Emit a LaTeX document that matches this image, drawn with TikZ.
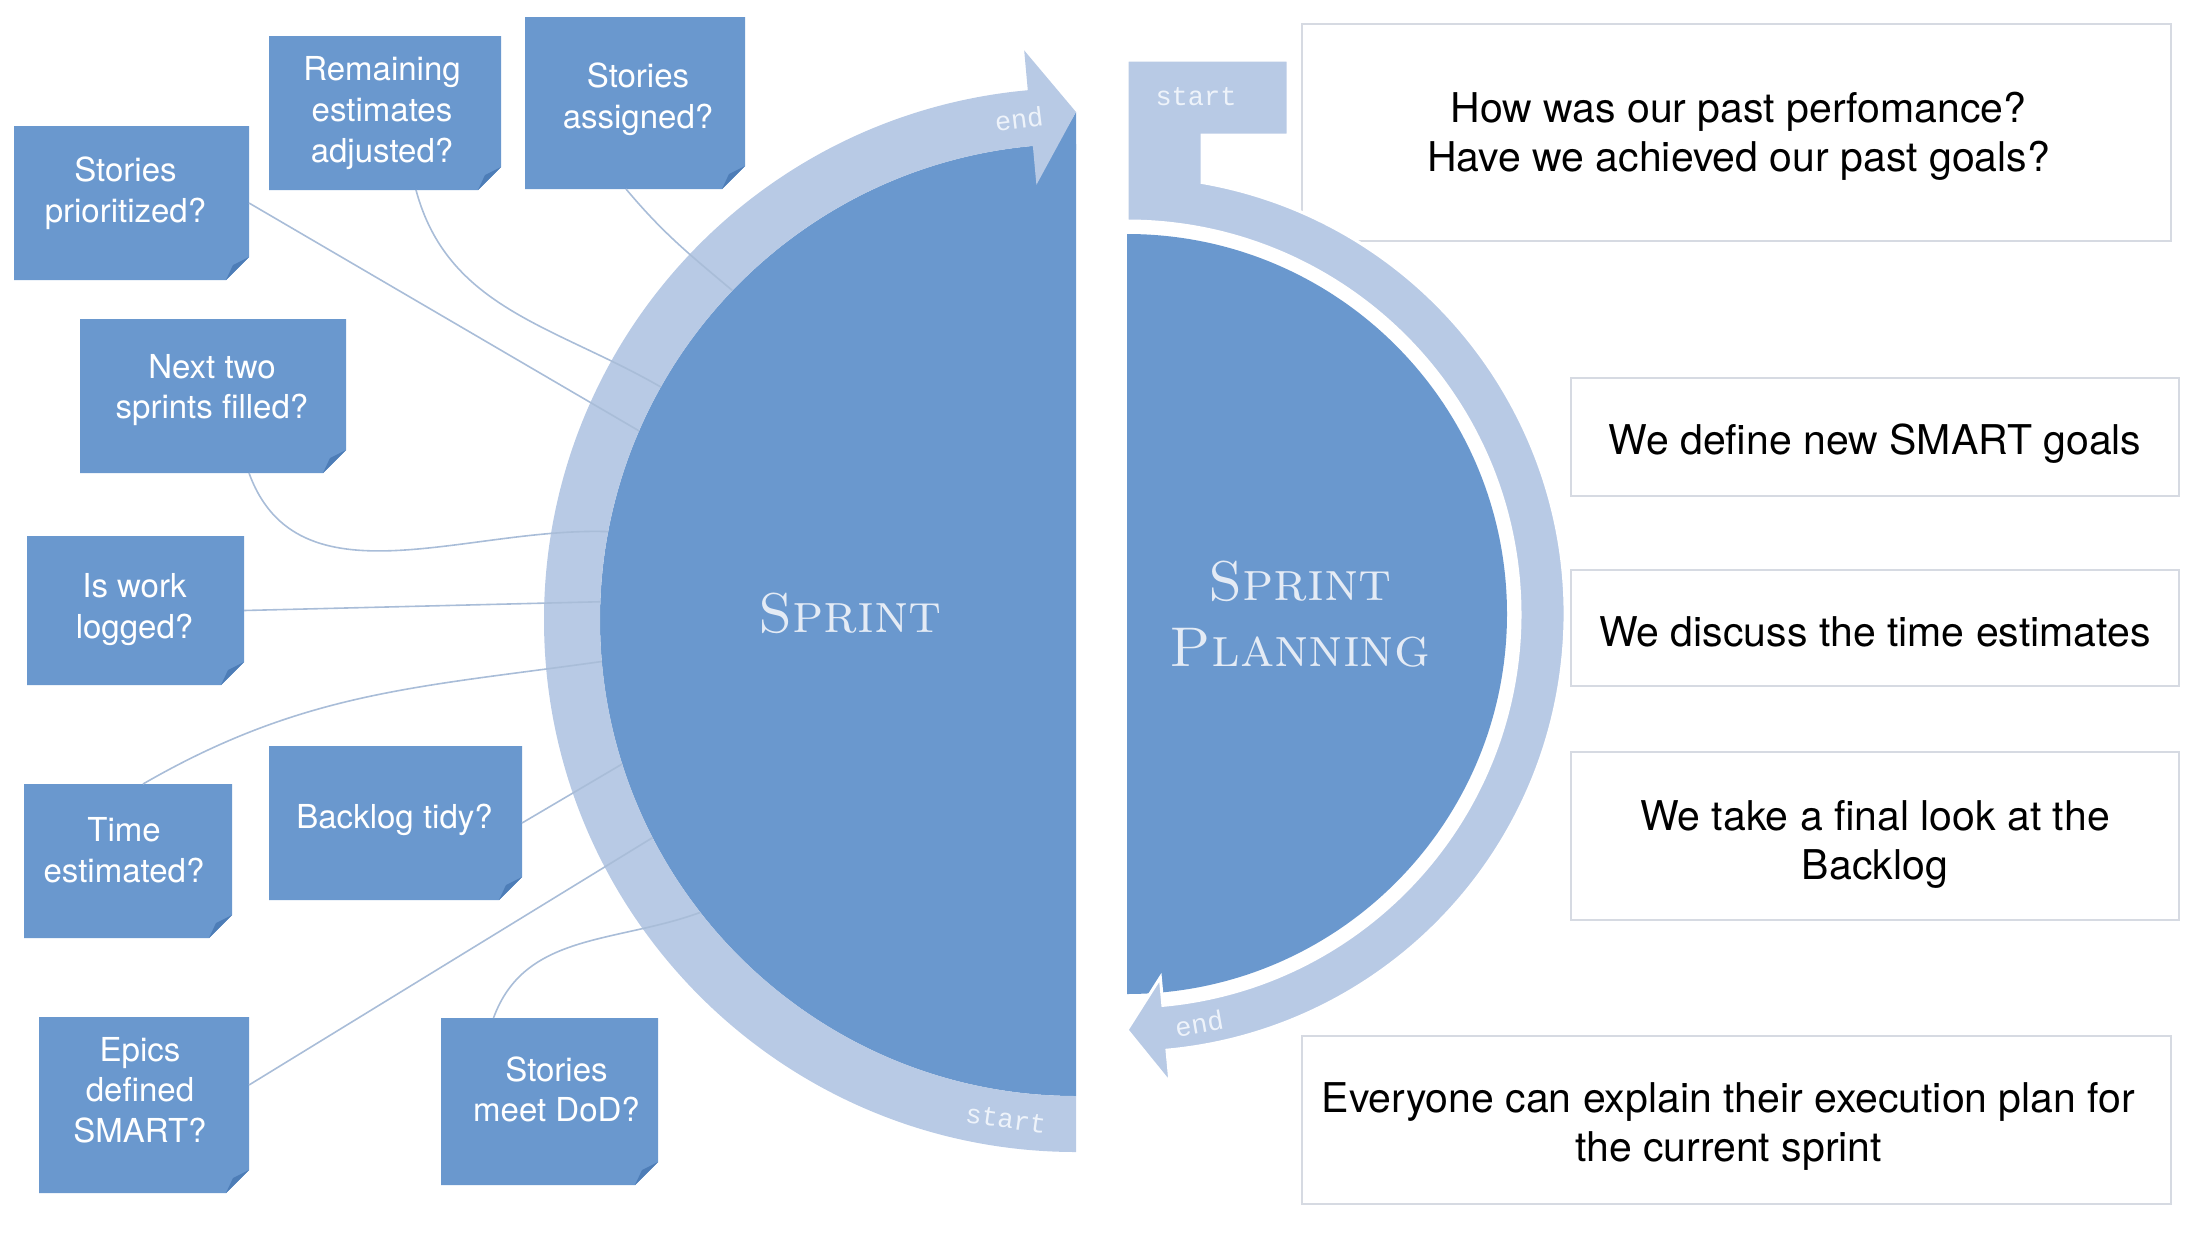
\documentclass[tikz,border=0pt]{standalone}
\usepackage{fontspec}
\newfontfamily\hel{TeX Gyre Heros}
\newfontfamily\mono{Liberation Mono}
\usetikzlibrary{calc}
\definecolor{darkb}{HTML}{6A98CE}
\definecolor{lightb}{HTML}{B8CAE5}
\definecolor{foldb}{HTML}{4D7DB7}
\definecolor{connc}{HTML}{A9BDD8}
\definecolor{boxline}{HTML}{D6DAE2}
\definecolor{titlec}{HTML}{E4EBF5}
\definecolor{labc}{HTML}{EEF3FA}
% name, x1, y1, x2, y2, text, text dx, text dy (px, up)
\newcommand\sticky[8]{%
  \fill[notefill] (#2,-#3) -- (#4,-#3) -- (#4,-#5+23) -- (#4-23,-#5) -- (#2,-#5) -- cycle;
  \fill[foldfill] (#4,-#5+23) -- (#4-23,-#5) -- (#4-16,-#5+15) -- cycle;
  \node[notebox, minimum width={(#4-#2)*0.5pt}, minimum height={(#5-#3)*0.5pt}] (#1) at ({(#2+#4)/2},{-(#3+#5)/2}) {};
  \node[notetext] (#1-t) at ($(#1.center)+(#7,#8)$) {#6};
}
% name, x1, y1, x2, y2, text, text dx, text dy (px, down)
\newcommand\infobox[8]{%
  \node[infoframe, minimum width={(#4-#2)*0.5pt}, minimum height={(#5-#3)*0.5pt}] (#1) at ({(#2+#4)/2},{-(#3+#5)/2}) {};
  \node[infotext] (#1-t) at ($(#1.center)+(#7,-#8)$) {#6};
}
\begin{document}
\begin{tikzpicture}[x=0.5pt,y=0.5pt,
  notefill/.style={fill=darkb},
  foldfill/.style={fill=foldb},
  notebox/.style={inner sep=0pt, outer sep=0pt},
  notetext/.style={inner sep=0pt, outer sep=0pt, align=center, text=white, font=\hel\fontsize{16.5}{20.3}\selectfont},
  infoframe/.style={draw=boxline, line width=0.75pt, inner sep=0pt, outer sep=0pt},
  infotext/.style={inner sep=0pt, align=center, font=\hel\fontsize{20.5}{24.5}\selectfont},
  conn/.style={draw=connc, line width=0.8pt},
  ringlab/.style={text=labc, font=\mono\fontsize{13.5}{13.5}\selectfont, inner sep=0pt},
  titlenode/.style={text=titlec, font=\fontsize{28}{33}\selectfont\scshape, align=center, inner sep=0pt}
]
\useasboundingbox (0,0) rectangle (2196,-1232);
\coordinate (c1) at (1076,-620);
\coordinate (c2) at (1127,-614);

% right boxes
\infobox{qA}{1302}{24}{2171}{241}{How was our past perfomance?\\Have we achieved our past goals?}{2}{4}
\infobox{qB}{1571}{378}{2179}{496}{We define new SMART goals}{0}{7}
\infobox{qC}{1571}{570}{2179}{686}{We discuss the time estimates}{0}{4}
\infobox{qD}{1571}{752}{2179}{920}{We take a final look at the\\Backlog}{0}{8}
\infobox{qE}{1302}{1036}{2171}{1204}{Everyone can explain their execution plan for\\the current sprint}{-8}{6}

% sprint half disk
\fill[darkb] (1076,-144) arc[start angle=90, end angle=270, radius=476] -- cycle;
\fill[darkb] (1076,-112) -- (1054,-150) -- (1076,-150) -- cycle;
% sprint ring with arrow
\fill[lightb] (1076,-1152) arc[start angle=270, end angle=95.2, radius=532]
  -- ($(c1)+(95.2:572)$) -- ($(c1)+(90:508)$) -- ($(c1)+(95.2:437)$) -- ($(c1)+(95.2:476)$)
  arc[start angle=95.2, end angle=270, radius=476] -- cycle;

% planning half disk
\fill[darkb] (1127,-234) arc[start angle=90, end angle=-90, radius=380] -- cycle;
% planning ring with arrow and start tab
\filldraw[fill=lightb, draw=white, line width=1.5pt] ($(c2)+(80.14:438)$) arc[start angle=80.14, end angle=-84.76, radius=438]
  -- ($(c2)+(-84.76:471)$) -- ($(c2)+(-90:416)$) -- ($(c2)+(-84.76:365)$) -- ($(c2)+(-84.76:393)$)
  arc[start angle=-84.76, end angle=90, radius=393]
  -- (1127,-60) -- (1288,-60) -- (1288,-135) -- (1202,-135) -- cycle;

% ring labels
\node[ringlab, rotate=7] (endA) at ($(c1)+(96.5:504)$) {end};
\node[ringlab, rotate=-8] (startA) at ($(c1)+(262:504)$) {start};
\node[ringlab] (startB) at (1196,-97) {start};
\node[ringlab, rotate=10] (endB) at ($(c2)+(-80:416)$) {end};

% titles
\node[titlenode] (sprint) at (850,-613) {Sprint};
\node[titlenode] (planning) at (1300,-614) {Sprint\\Planning};

% sticky notes
\sticky{n1}{14}{126}{249}{280}{Stories\\prioritized?}{-6}{10}
\sticky{n2}{269}{36}{501}{190}{Remaining\\estimates\\adjusted?}{-3}{0}
\sticky{n3}{525}{17}{745}{189}{Stories\\assigned?}{3}{4}
\sticky{n4}{80}{319}{346}{473}{Next two\\sprints filled?}{-1}{6}
\sticky{n5}{27}{536}{244}{685}{Is work\\logged?}{-1}{1}
\sticky{n6}{24}{784}{232}{938}{Time\\estimated?}{-4}{11}
\sticky{n7}{269}{746}{522}{900}{Backlog tidy?}{-1}{3}
\sticky{n8}{39}{1017}{249}{1193}{Epics\\defined\\SMART?}{-4}{15}
\sticky{n9}{441}{1018}{658}{1185}{Stories\\meet DoD?}{7}{12}

% connector end points on the sprint disk
\coordinate (e1) at ($(c1)+(156.6:476)$);
\coordinate (e2) at ($(c1)+(150.7:476)$);
\coordinate (e3) at ($(c1)+(136.2:476)$);
\coordinate (e4) at ($(c1)+(169.3:476)$);
\coordinate (e5) at ($(c1)+(177.8:476)$);
\coordinate (e6) at ($(c1)+(185.0:476)$);
\coordinate (e7) at ($(c1)+(197.6:476)$);
\coordinate (e8) at ($(c1)+(207.2:476)$);
\coordinate (e9) at ($(c1)+(217.9:476)$);

\draw[conn] (n1.east) -- (e1);
\draw[conn] ($(n2.south)+(31,0)$) to[out=-75,in=150] (e2);
\draw[conn] ($(n3.south)+(-9,0)$) to[out=-50,in=140] (e3);
\draw[conn] ($(n4.south)+(36,0)$) to[out=-70,in=178] (e4);
\draw[conn] (n5.east) -- (e5);
\draw[conn] ($(n6.north)+(15,0)$) to[out=30,in=188] (e6);
\draw[conn] (n7.east) -- (e7);
\draw[conn] ($(n8.east)+(0,20)$) -- (e8);
\draw[conn] ($(n9.north)+(-56,0)$) to[out=70,in=200] (e9);
\end{tikzpicture}
\end{document}
